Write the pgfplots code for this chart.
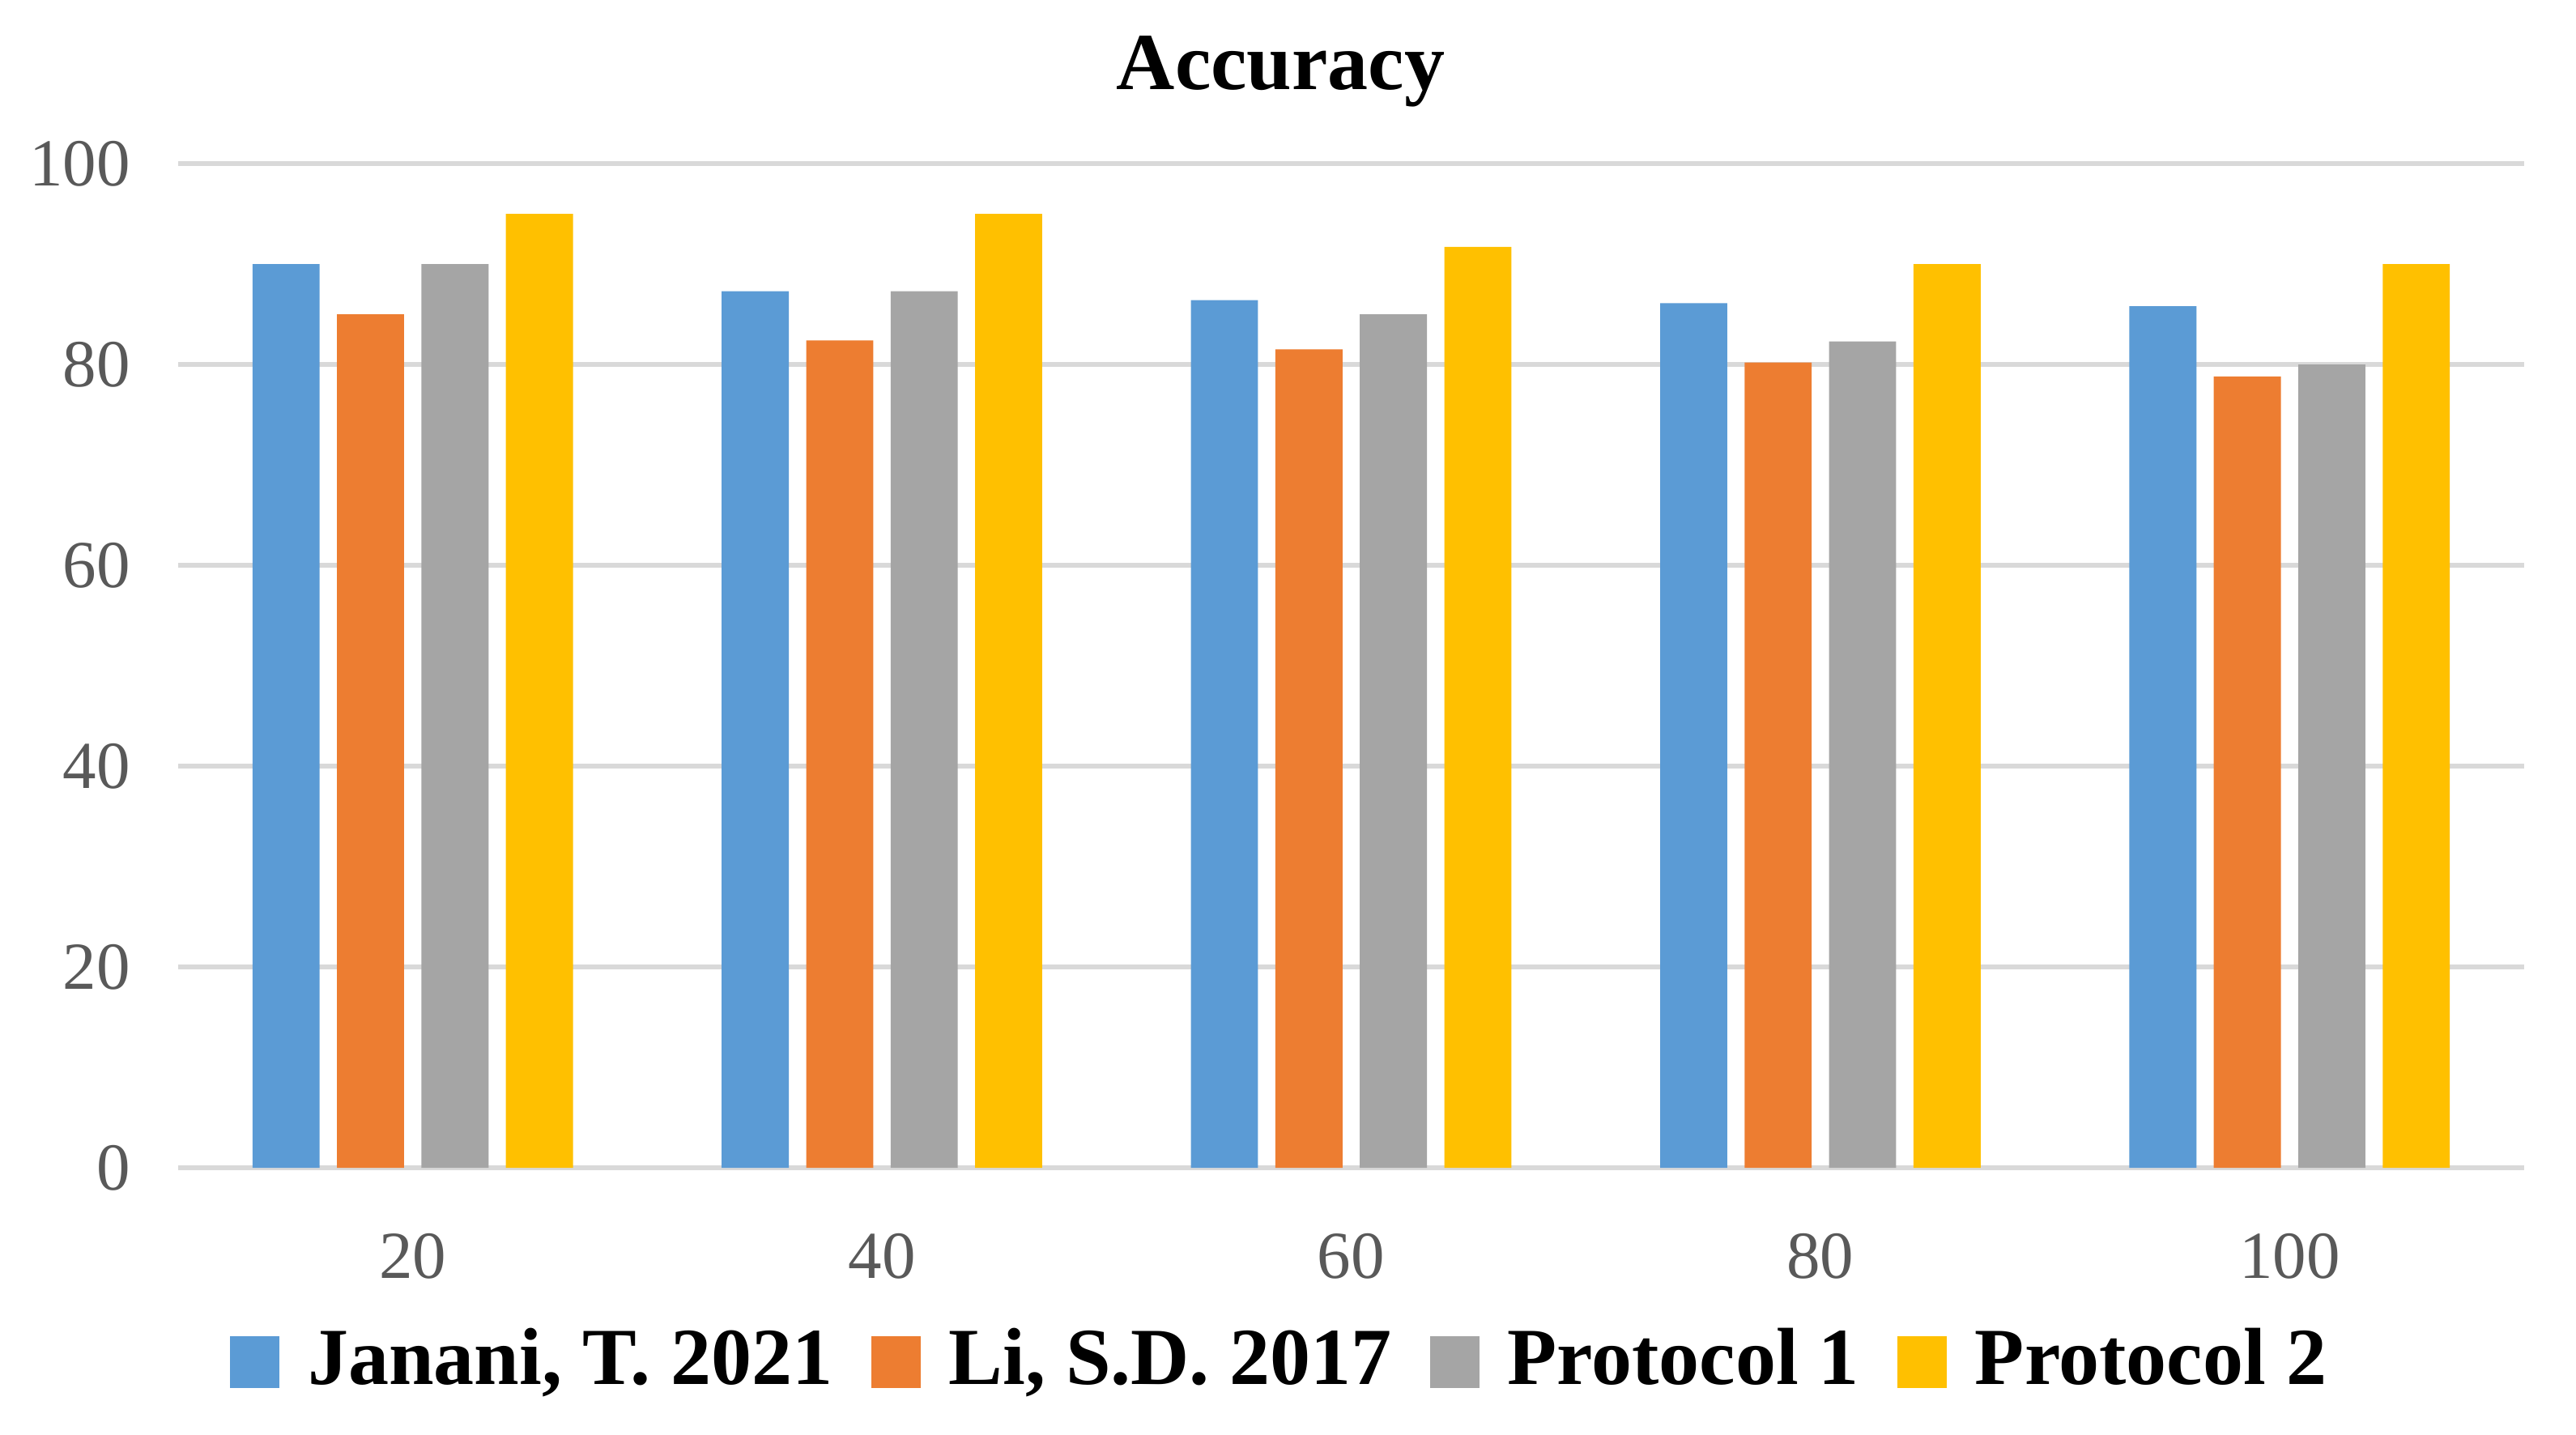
\documentclass[border=0pt]{standalone}
\usepackage{fontspec}
\setmainfont{Liberation Serif}
\usepackage{pgfplots}
\pgfplotsset{compat=1.18}
\definecolor{cblue}{HTML}{5B9BD5}
\definecolor{corange}{HTML}{ED7D31}
\definecolor{cgray}{HTML}{A5A5A5}
\definecolor{cyellow}{HTML}{FFC000}
\definecolor{gridc}{HTML}{D9D9D9}
\definecolor{tickc}{HTML}{595959}
\pgfplotsset{lsq/.style={legend image code/.code={\fill[##1] (0pt,-3.2pt) rectangle (6.1pt,3.2pt);}}}
\begin{document}
\begin{tikzpicture}
\begin{axis}[
  at={(0,0)}, anchor=south west,
  scale only axis, width=289.7pt, height=124pt,
  xmin=0.5, xmax=5.5, ymin=0, ymax=100,
  ybar, bar width=0.143,
  ytick={0,20,...,100},
  xtick={1,...,5}, xticklabels={20,40,60,80,100},
  major tick length=0pt,
  axis line style={draw=none},
  ymajorgrids, grid style={draw=gridc, line width=0.55pt},
  /pgf/number format/assume math mode=true,
  ticklabel style={font=\fontsize{8.3}{10}\selectfont, text=tickc},
  yticklabel style={inner xsep=0pt, xshift=-5.7pt},
  xticklabel style={inner ysep=0pt, yshift=-7.9pt},
  title={Accuracy},
  title style={at={(0.47,1)}, anchor=center, yshift=5.4pt, font=\fontsize{10}{12}\bfseries},
  legend style={at={(0.469,-0.1935)}, anchor=center, draw=none, fill=none,
    legend columns=-1, font=\fontsize{10}{12}\selectfont\bfseries,
    /tikz/every odd column/.append style={column sep=3.5pt},
    /tikz/every even column/.append style={column sep=4.7pt},
    nodes={inner xsep=0pt}},
]
\addplot[fill=cblue, draw=none, bar shift=-0.27, lsq] coordinates {(1,90) (2,87.3) (3,86.4) (4,86.1) (5,85.8)};
\addplot[fill=corange, draw=none, bar shift=-0.09, lsq] coordinates {(1,85) (2,82.4) (3,81.5) (4,80.2) (5,78.8)};
\addplot[fill=cgray, draw=none, bar shift=0.09, lsq] coordinates {(1,90) (2,87.3) (3,85) (4,82.3) (5,80)};
\addplot[fill=cyellow, draw=none, bar shift=0.27, lsq] coordinates {(1,95) (2,95) (3,91.7) (4,90) (5,90)};
\legend{{Janani, T. 2021},{Li, S.D. 2017},Protocol 1,Protocol 2}
\end{axis}
\pgfresetboundingbox
\useasboundingbox (-22pt,-32.9pt) rectangle (296.1pt,144.2pt);
\end{tikzpicture}
\end{document}
